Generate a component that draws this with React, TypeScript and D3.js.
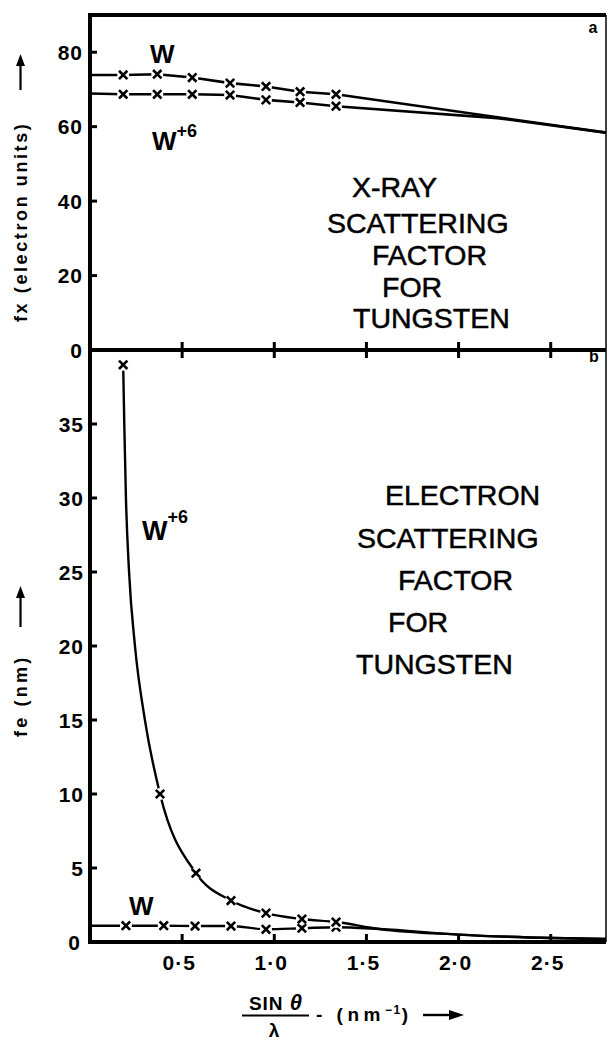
import React from "react";
import * as d3 from "d3";

// ---------- data ----------
const xTicks = [0.5, 1.0, 1.5, 2.0, 2.5];
const xTickLabels = ["0·5", "1·0", "1·5", "2·0", "2·5"];
const fxTicks = [0, 20, 40, 60, 80];
const feTicks = [0, 5, 10, 15, 20, 25, 30, 35];

// panel a: X-ray scattering factor
const fxMarkerX = [0.18, 0.365, 0.555, 0.76, 0.955, 1.14, 1.335];
const fxW = [73.9, 74.1, 73.2, 71.7, 70.8, 69.4, 68.7];
const fxW6 = [68.7, 68.7, 68.7, 68.5, 67.2, 66.5, 65.5];
const fxWStart = 73.9;
const fxW6Start = 68.9;
const fxWTail: [number, number][] = [[2.8, 58.4]];
const fxW6Tail: [number, number][] = [[2.21, 62.3], [2.8, 58.4]];

// panel b: electron scattering factor
const feMarkerXW = [0.195, 0.4, 0.57, 0.765, 0.955, 1.15, 1.335];
const feW = [1.1, 1.1, 1.08, 1.08, 0.86, 0.93, 1.0];
const feWStart = 1.1;
const feMarkerXW6 = [0.18, 0.38, 0.575, 0.765, 0.955, 1.15, 1.335];
const feW6 = [39.0, 10.0, 4.65, 2.8, 1.95, 1.55, 1.35];
// unmarked points read along the W+6 curve between the first two crosses
const feW6CurveX = [0.186, 0.195, 0.212, 0.244, 0.298];
const feW6CurveY = [35, 30, 25, 20, 15];
const feTail: [number, number][] = [[1.57, 0.88], [2.0, 0.5], [2.8, 0.2]];

const textA = ["X-RAY", "SCATTERING", "FACTOR", "FOR", "TUNGSTEN"];
const textB = ["ELECTRON", "SCATTERING", "FACTOR", "FOR", "TUNGSTEN"];

// ---------- layout ----------
const W = 607, H = 1040;
const L = 90, R = 606, TOP = 15, MID = 350, BOT = 942;
const FONT = "'Liberation Sans', Arial, Helvetica, sans-serif";

const x = d3.scaleLinear().domain([0, 2.8]).range([L, R]);
const yA = d3.scaleLinear().domain([0, 90]).range([MID, TOP]);
const yB = d3.scaleLinear().domain([0, 40]).range([BOT, MID]);

function Cross({ cx, cy }: { cx: number; cy: number }) {
  const s = 4.2;
  return (
    <g>
      <circle cx={cx} cy={cy} r={6} fill="#fff" />
      <line x1={cx - s} y1={cy - s} x2={cx + s} y2={cy + s} stroke="#000" strokeWidth={2.6} />
      <line x1={cx - s} y1={cy + s} x2={cx + s} y2={cy - s} stroke="#000" strokeWidth={2.6} />
    </g>
  );
}

export default function App() {
  const lineA = d3.line<[number, number]>().x((d) => x(d[0])).y((d) => yA(d[1]));
  const lineB = d3
    .line<[number, number]>()
    .x((d) => x(d[0]))
    .y((d) => yB(d[1]))
    .curve(d3.curveMonotoneX);

  const aW: [number, number][] = [[0, fxWStart], ...fxMarkerX.map((v, i) => [v, fxW[i]] as [number, number]), ...fxWTail];
  const aW6: [number, number][] = [[0, fxW6Start], ...fxMarkerX.map((v, i) => [v, fxW6[i]] as [number, number]), ...fxW6Tail];

  const bW: [number, number][] = [[0, feWStart], ...feMarkerXW.map((v, i) => [v, feW[i]] as [number, number]), ...feTail];
  const w6pts: [number, number][] = [
    ...feMarkerXW6.map((v, i) => [v, feW6[i]] as [number, number]),
    ...feW6CurveX.map((v, i) => [v, feW6CurveY[i]] as [number, number]),
    ...feTail,
  ].sort((a, b) => a[0] - b[0]);

  const tickFont = { fontFamily: FONT, fontWeight: 700, fontSize: 21, letterSpacing: 1 } as const;
  const bigFont = { fontFamily: FONT, fontWeight: 400, fontSize: 28.5 } as const;
  const aStarts = [352, 327, 372, 382, 353];
  const aBase = [197, 233, 265, 297, 328];
  const bStarts = [385, 357, 398, 388, 356];
  const bBase = [505, 548, 590, 632, 674];

  return (
    <svg
      width={W}
      height={H}
      viewBox={`0 0 ${W} ${H}`}
      style={{ position: "absolute", left: 0, top: 0, display: "block", background: "#fff" }}
    >
      <rect x={0} y={0} width={W} height={H} fill="#fff" />

      {/* frame */}
      <line x1={L} y1={TOP} x2={R} y2={TOP} stroke="#000" strokeWidth={4} />
      <line x1={R} y1={TOP} x2={R} y2={BOT} stroke="#000" strokeWidth={1.5} />
      <line x1={L} y1={TOP - 2} x2={L} y2={BOT + 2} stroke="#000" strokeWidth={4} />
      <line x1={L} y1={MID} x2={R} y2={MID} stroke="#000" strokeWidth={4} />
      <line x1={L - 2} y1={BOT} x2={R} y2={BOT} stroke="#000" strokeWidth={4} />

      {/* x ticks */}
      {xTicks.map((t) => (
        <g key={"xa" + t}>
          <line x1={x(t)} y1={MID - 8} x2={x(t)} y2={MID + 8} stroke="#000" strokeWidth={3} />
          <line x1={x(t)} y1={BOT} x2={x(t)} y2={BOT - 8} stroke="#000" strokeWidth={3} />
        </g>
      ))}
      {xTickLabels.map((s, i) => (
        <text key={"xl" + i} x={x(xTicks[i]) - 3} y={970} textAnchor="middle" style={tickFont}>
          {s}
        </text>
      ))}

      {/* y ticks panel a */}
      {fxTicks.map((t) => (
        <g key={"ya" + t}>
          {t !== 0 && <line x1={L} y1={yA(t)} x2={L + 7} y2={yA(t)} stroke="#000" strokeWidth={3} />}
          <text x={83} y={yA(t) + 7.5} textAnchor="end" style={tickFont}>
            {t}
          </text>
        </g>
      ))}
      {/* y ticks panel b */}
      {feTicks.map((t) => (
        <g key={"yb" + t}>
          {t !== 0 && <line x1={L} y1={yB(t)} x2={L + 7} y2={yB(t)} stroke="#000" strokeWidth={3} />}
          <text x={t === 0 ? 81 : 84} y={yB(t) + 7.5} textAnchor="end" style={tickFont}>
            {t}
          </text>
        </g>
      ))}

      {/* panel letters */}
      <text x={593} y={33} textAnchor="middle" style={{ fontFamily: FONT, fontWeight: 700, fontSize: 16 }}>a</text>
      <text x={594} y={362} textAnchor="middle" style={{ fontFamily: FONT, fontWeight: 700, fontSize: 16 }}>b</text>

      {/* axis titles */}
      <g transform="translate(27,322) rotate(-90)">
        <text x={0} y={0} style={{ fontFamily: FONT, fontWeight: 700, fontSize: 18, letterSpacing: 2.6 }}>
          fx (electron units)
        </text>
        <line x1={232} y1={-6.5} x2={262} y2={-6.5} stroke="#000" strokeWidth={2.2} />
        <path d="M 268 -6.5 L 256 -11 L 256 -2 Z" fill="#000" />
      </g>
      <g transform="translate(27,737) rotate(-90)">
        <text x={0} y={0} style={{ fontFamily: FONT, fontWeight: 700, fontSize: 18, letterSpacing: 3.2 }}>
          fe (nm)
        </text>
        <line x1={110} y1={-6.5} x2={144} y2={-6.5} stroke="#000" strokeWidth={2.2} />
        <path d="M 151 -6.5 L 139 -11 L 139 -2 Z" fill="#000" />
      </g>

      {/* x title */}
      <text x={276} y={1010} textAnchor="middle" style={{ fontFamily: FONT, fontWeight: 700, fontSize: 19, letterSpacing: 1 }}>
        SIN <tspan fontStyle="italic" fontSize={22}>θ</tspan>
      </text>
      <line x1={242} y1={1015.5} x2={309} y2={1015.5} stroke="#000" strokeWidth={2.2} />
      <text x={274} y={1037} textAnchor="middle" style={{ fontFamily: FONT, fontWeight: 700, fontSize: 19 }}>λ</text>
      <text x={316} y={1021} style={{ fontFamily: FONT, fontWeight: 700, fontSize: 19, letterSpacing: 4.5 }}>
        - (nm<tspan dy={-7} fontSize={12} letterSpacing={1.5}>−1</tspan><tspan dy={7}>)</tspan>
      </text>
      <line x1={423} y1={1015} x2={452} y2={1015} stroke="#000" strokeWidth={2.4} />
      <path d="M 464 1015 L 449 1010 L 449 1020 Z" fill="#000" />

      {/* panel text */}
      {textA.map((s, i) => (
        <text key={"ta" + i} x={aStarts[i]} y={aBase[i]} style={bigFont} stroke="#000" strokeWidth={0.5}>
          {s}
        </text>
      ))}
      {textB.map((s, i) => (
        <text key={"tb" + i} x={bStarts[i]} y={bBase[i]} style={bigFont} stroke="#000" strokeWidth={0.5}>
          {s}
        </text>
      ))}

      {/* series labels */}
      <text x={150} y={63} style={{ fontFamily: FONT, fontWeight: 700, fontSize: 26 }}>W</text>
      <text x={152} y={150} style={{ fontFamily: FONT, fontWeight: 700, fontSize: 26 }}>
        W<tspan dy={-13} fontSize={18}>+6</tspan>
      </text>
      <text x={142} y={540} style={{ fontFamily: FONT, fontWeight: 700, fontSize: 27 }}>
        W<tspan dy={-17} fontSize={18}>+6</tspan>
      </text>
      <text x={129} y={915} style={{ fontFamily: FONT, fontWeight: 700, fontSize: 26 }}>W</text>

      {/* panel a lines */}
      <path d={lineA(aW) ?? ""} fill="none" stroke="#000" strokeWidth={2.6} />
      <path d={lineA(aW6) ?? ""} fill="none" stroke="#000" strokeWidth={2.6} />
      {fxMarkerX.map((v, i) => (
        <Cross key={"aw" + i} cx={x(v)} cy={yA(fxW[i])} />
      ))}
      {fxMarkerX.map((v, i) => (
        <Cross key={"aw6" + i} cx={x(v)} cy={yA(fxW6[i])} />
      ))}

      {/* panel b lines */}
      <path d={lineB(bW) ?? ""} fill="none" stroke="#000" strokeWidth={2.4} />
      <path d={lineB(w6pts) ?? ""} fill="none" stroke="#000" strokeWidth={2.4} />
      {feMarkerXW.map((v, i) => (
        <Cross key={"bw" + i} cx={x(v)} cy={yB(feW[i])} />
      ))}
      {feMarkerXW6.map((v, i) => (
        <Cross key={"bw6" + i} cx={x(v)} cy={yB(feW6[i])} />
      ))}
    </svg>
  );
}
